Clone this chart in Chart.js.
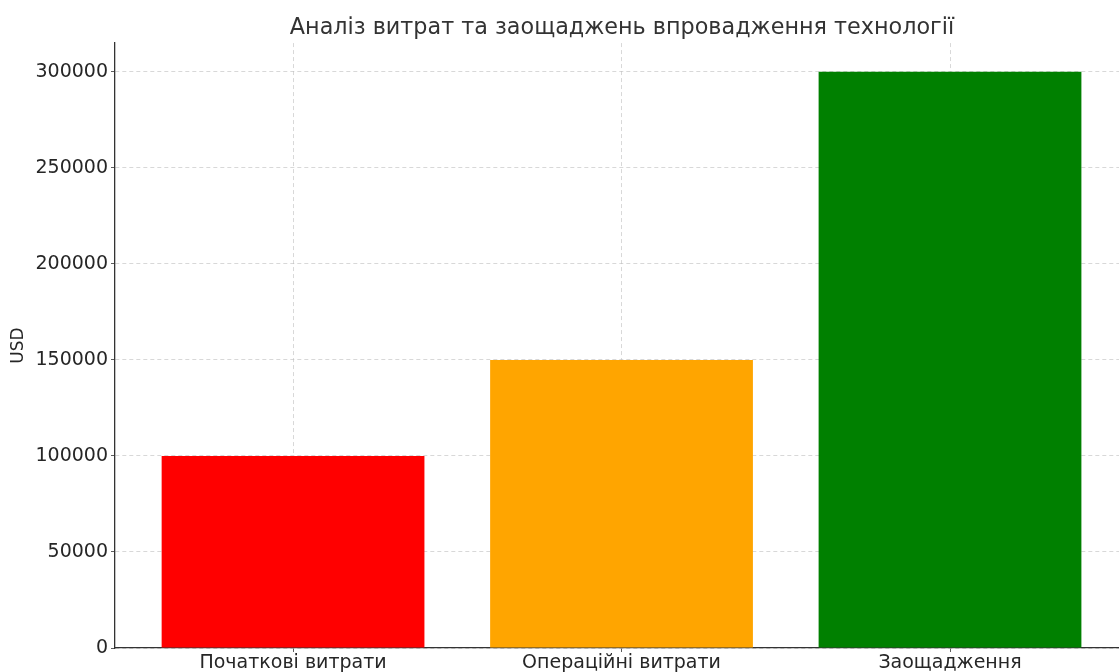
<!DOCTYPE html>
<html>
<head>
<meta charset="utf-8">
<script src="https://cdn.jsdelivr.net/npm/chart.js@4/dist/chart.umd.min.js"></script>
<style>
  html, body { margin: 0; padding: 0; background: #fff; overflow: hidden; }
  #wrap { width: 1119px; height: 672px; overflow: hidden; }
</style>
</head>
<body>
<div id="wrap"><canvas id="c" width="1244" height="672"></canvas></div>
<script>
const categories = ["Початкові витрати", "Операційні витрати", "Заощадження"];
const values = [100000, 150000, 300000];
const barColors = ["#ff0000", "#ffa500", "#008000"];
const yTicks = [0, 50000, 100000, 150000, 200000, 250000, 300000];
const titleText = "Аналіз витрат та заощаджень впровадження технології";
const yAxisTitle = "USD";

const points = values.map((v, i) => ({ x: i, y: v }));
const FONT = "'DejaVu Sans', sans-serif";
const gridColor = "rgba(190,190,190,0.75)";

new Chart(document.getElementById("c"), {
  type: "bar",
  data: {
    datasets: [{
      data: points,
      backgroundColor: barColors,
      borderWidth: 0,
      barPercentage: 0.8,
      categoryPercentage: 1.0
    }]
  },
  options: {
    responsive: false,
    animation: false,
    layout: { padding: { left: 0, right: 0, top: 0, bottom: 0 } },
    plugins: {
      legend: { display: false },
      tooltip: { enabled: false },
      title: {
        display: true,
        text: titleText,
        color: "#333333",
        font: { family: FONT, size: 22.3, weight: "normal" },
        padding: { top: 15, bottom: 1.3 }
      }
    },
    scales: {
      x: {
        type: "linear",
        offset: false,
        min: -0.542,
        max: 2.895,
        z: 1,
        afterBuildTicks: (s) => { s.ticks = categories.map((_, i) => ({ value: i })); },
        afterFit: (s) => { s.height = 24; },
        ticks: {
          callback: (v) => categories[v] ?? "",
          color: "#262626",
          font: { family: FONT, size: 19 },
          padding: 0,
          maxRotation: 0,
          autoSkip: false
        },
        grid: {
          offset: false,
          color: gridColor,
          lineWidth: 0.8,
          tickLength: 4,
          tickColor: "#333333",
          drawTicks: true
        },
        border: { display: true, color: "#333333", width: 1.3, dash: [4, 3] }
      },
      y: {
        min: 0,
        max: 315000,
        z: 1,
        afterBuildTicks: (s) => { s.ticks = yTicks.map(v => ({ value: v })); },
        afterFit: (s) => { s.width = 115; },
        ticks: {
          callback: (v) => String(v),
          color: "#262626",
          font: { family: FONT, size: 19 },
          padding: 3
        },
        grid: {
          color: gridColor,
          lineWidth: 0.8,
          tickLength: 4,
          tickColor: "#333333"
        },
        border: { display: true, color: "#333333", width: 1.3, dash: [4, 3] },
        title: {
          display: true,
          text: yAxisTitle,
          color: "#262626",
          font: { family: FONT, size: 17 },
          padding: { top: 8, bottom: 0 }
        }
      }
    }
  }
});
</script>
</body>
</html>
